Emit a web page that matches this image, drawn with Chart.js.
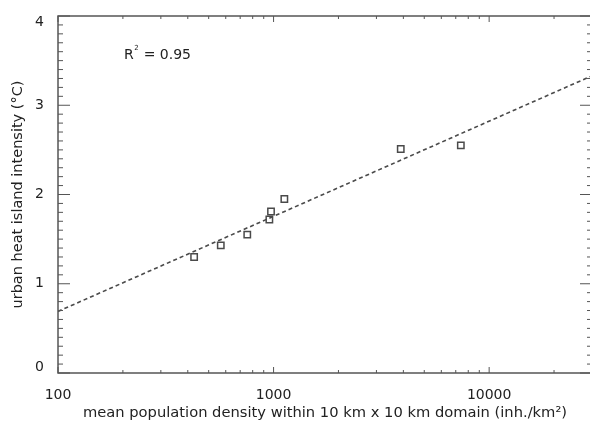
<!DOCTYPE html>
<html>
<head>
<meta charset="utf-8">
<title>Urban heat island vs population density</title>
<script src="https://cdn.jsdelivr.net/npm/chart.js@4.4.1/dist/chart.umd.min.js"></script>
<style>
    html, body { margin: 0; padding: 0; background: #fff; overflow: hidden; }
    .clip { width: 590px; height: 423px; overflow: hidden; }
    .wrap { position: relative; width: 598px; height: 423px; }
</style>
</head>
<body>
<div class="clip"><div class="wrap"><canvas id="uhiChart"></canvas></div></div>
<script>
// ========== DATA ==========
const popDensity = [428, 569, 755, 956, 973, 1122, 3890, 7390];
const uhiIntensity = [1.30, 1.43, 1.55, 1.72, 1.81, 1.95, 2.51, 2.55];
const fitX = [100, 30000];
const fitY = [0.69, 3.33];
const xTickValues = [100, 1000, 10000];
const yTickValues = [0, 1, 2, 3, 4];
const rSquared = '0.95';

const FONT = '"DejaVu Sans", Verdana, sans-serif';
const axisColor = '#555';
const textColor = '#222';
const markColor = '#4a4a4a';

// ========== FRAME + INWARD TICKS ==========
const frameTicks = {
    id: 'frameTicks',
    afterDatasetsDraw(chart) {
        const { ctx, chartArea: a, scales: { x, y } } = chart;
        ctx.save();
        ctx.strokeStyle = axisColor;
        ctx.lineWidth = 1.5;
        ctx.strokeRect(a.left, a.top, a.right - a.left, a.bottom - a.top);

        ctx.lineWidth = 1;
        ctx.beginPath();
        for (let decade = 100; decade <= x.max; decade *= 10) {
            for (let k = 1; k <= 9; k++) {
                const v = k * decade;
                if (v > x.max) break;
                const px = x.getPixelForValue(v);
                const len = k === 1 ? 6 : 3;
                ctx.moveTo(px, a.bottom); ctx.lineTo(px, a.bottom - len);
                ctx.moveTo(px, a.top); ctx.lineTo(px, a.top + len);
            }
        }
        for (let i = 0; i <= 40; i++) {
            const py = y.getPixelForValue(i / 10);
            const len = i % 10 === 0 ? 12 : 5;
            ctx.moveTo(a.left, py); ctx.lineTo(a.left + len, py);
            ctx.moveTo(a.right, py); ctx.lineTo(a.right - len, py);
        }
        ctx.stroke();

        // R² annotation
        ctx.fillStyle = textColor;
        ctx.textBaseline = 'alphabetic';
        let tx = a.left + 66;
        const ty = a.top + 43;
        ctx.font = '14px ' + FONT;
        ctx.fillText('R', tx, ty);
        tx += ctx.measureText('R').width;
        ctx.font = '7px ' + FONT;
        ctx.fillText('2', tx + 0.5, ty - 9);
        tx += ctx.measureText('2').width + 1;
        ctx.font = '14px ' + FONT;
        ctx.fillText(' = ' + rSquared, tx, ty);
        ctx.restore();
    }
};

// ========== CHART ==========
new Chart(document.getElementById('uhiChart'), {
    type: 'scatter',
    data: {
        datasets: [
            {
                label: 'fit',
                type: 'line',
                data: fitX.map((v, i) => ({ x: v, y: fitY[i] })),
                borderColor: markColor,
                borderWidth: 1.6,
                borderDash: [4, 3],
                pointRadius: 0,
                fill: false,
                tension: 0
            },
            {
                label: 'cities',
                data: popDensity.map((v, i) => ({ x: v, y: uhiIntensity[i] })),
                pointStyle: 'rect',
                pointRadius: 4.5,
                borderColor: markColor,
                borderWidth: 1.5,
                backgroundColor: 'rgba(0,0,0,0)'
            }
        ]
    },
    options: {
        responsive: true,
        maintainAspectRatio: false,
        animation: false,
        layout: { padding: { top: 16, right: 2, left: 0, bottom: 0 } },
        plugins: {
            legend: { display: false },
            tooltip: { enabled: false }
        },
        scales: {
            x: {
                type: 'logarithmic',
                min: 100,
                max: 30000,
                grid: { display: false },
                border: { display: false },
                afterBuildTicks: (scale) => { scale.ticks = xTickValues.map(v => ({ value: v })); },
                afterFit: (scale) => {
                    scale.height = 50;
                    scale.paddingLeft = 0;
                    scale.paddingRight = 0;
                },
                ticks: {
                    color: textColor,
                    font: { family: FONT, size: 14 },
                    padding: 6,
                    maxRotation: 0,
                    autoSkip: false,
                    callback: (v) => String(v)
                },
                title: {
                    display: true,
                    text: 'mean population density within 10 km x 10 km domain (inh./km²)',
                    color: textColor,
                    font: { family: FONT, size: 14.7 },
                    padding: { top: 0, bottom: 1 }
                }
            },
            y: {
                min: 0,
                max: 4,
                grid: { display: false },
                border: { display: false },
                afterBuildTicks: (scale) => { scale.ticks = yTickValues.map(v => ({ value: v })); },
                afterFit: (scale) => {
                    scale.width = 58;
                    scale.paddingTop = 0;
                    scale.paddingBottom = 0;
                },
                ticks: {
                    color: textColor,
                    font: { family: FONT, size: 14, lineHeight: 0.86 },
                    padding: 6,
                    // IDL keeps the end labels inside the frame
                    callback: (v) => v === 4 ? ['', '4'] : v === 0 ? ['0', ''] : String(v)
                },
                title: {
                    display: true,
                    text: 'urban heat island intensity (°C)',
                    color: textColor,
                    font: { family: FONT, size: 14.5 },
                    padding: { top: 10, bottom: 0 }
                }
            }
        }
    },
    plugins: [frameTicks]
});
</script>
</body>
</html>
